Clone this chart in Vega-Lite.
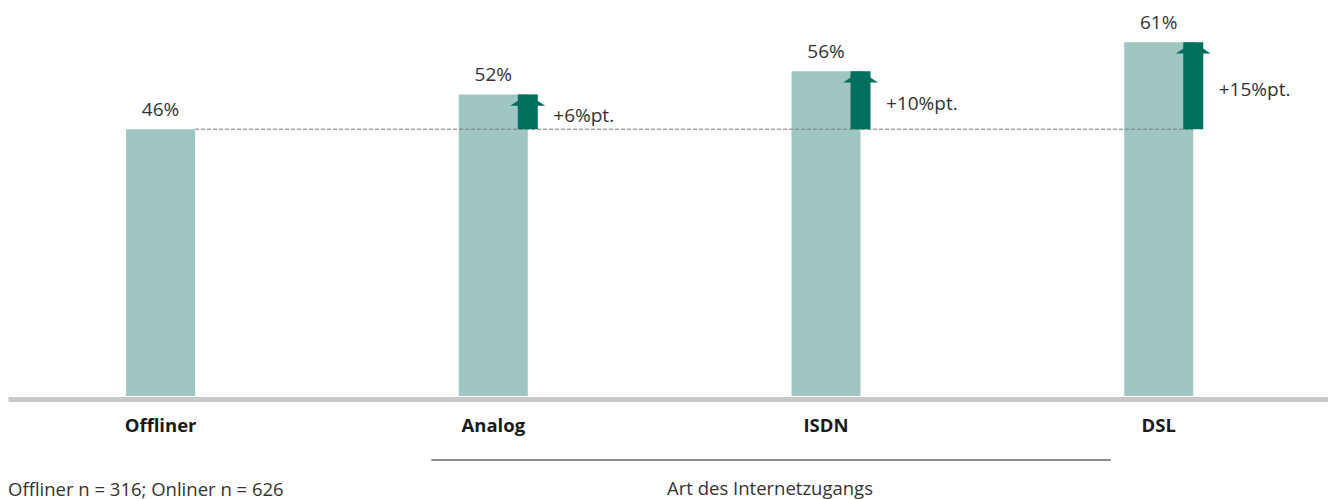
{
  "$schema": "https://vega.github.io/schema/vega-lite/v6.json",
  "width": 1320,
  "height": 377,
  "autosize": {"type": "none"},
  "padding": {"left": 8, "top": 19, "right": 0, "bottom": 103},
  "config": {"view": {"stroke": null}, "font": "Open Sans"},
  "title": {
    "text": "Offliner n = 316; Onliner n = 626",
    "orient": "bottom",
    "anchor": "start",
    "frame": "group",
    "dx": 0,
    "offset": -18,
    "fontSize": 18.5,
    "fontWeight": "normal",
    "color": "#333333",
    "font": "Open Sans"
  },
  "datasets": {
    "main": [
      {"cat": "Offliner", "value": 0.46},
      {"cat": "Analog", "value": 0.52, "base": 0.46, "delta": "+6%pt."},
      {"cat": "ISDN", "value": 0.56, "base": 0.46, "delta": "+10%pt."},
      {"cat": "DSL", "value": 0.61, "base": 0.46, "delta": "+15%pt."}
    ]
  },
  "encoding": {
    "x": {
      "field": "cat",
      "type": "nominal",
      "sort": ["Offliner", "Analog", "ISDN", "DSL"],
      "title": null,
      "scale": {
        "domain": ["Offliner", "Analog", "ISDN", "DSL"],
        "paddingInner": 0.7926,
        "paddingOuter": 0.38,
        "align": 0.467
      },
      "axis": {
        "title": null,
        "ticks": false,
        "domainColor": "#c8c8c8",
        "domainWidth": 5,
        "offset": 3,
        "labelAngle": 0,
        "labelFont": "Open Sans",
        "labelFontSize": 18.5,
        "labelFontWeight": "bold",
        "labelColor": "#1a1a1a",
        "labelPadding": 26,
        "labelBaseline": "middle"
      }
    }
  },
  "layer": [
    {
      "data": {"name": "main"},
      "mark": {"type": "bar", "color": "#a0c6c2"},
      "encoding": {
        "y": {"field": "value", "type": "quantitative", "scale": {"domain": [0, 0.65]}, "axis": null}
      }
    },
    {
      "data": {"name": "main"},
      "mark": {"type": "text", "dy": -13, "baseline": "alphabetic", "fontSize": 19, "color": "#333333", "font": "Open Sans"},
      "encoding": {
        "y": {"field": "value", "type": "quantitative"},
        "text": {"field": "value", "type": "quantitative", "format": ".0%"}
      }
    },
    {
      "data": {"values": [{"from": "Offliner", "to": "DSL", "level": 0.46}]},
      "mark": {"type": "rule", "strokeDash": [4, 2], "color": "#777777", "strokeWidth": 1, "xOffset": 34.5, "x2Offset": 34.5},
      "encoding": {
        "x": {"field": "from", "type": "nominal"},
        "x2": {"field": "to"},
        "y": {"field": "level", "type": "quantitative"}
      }
    },
    {
      "data": {"name": "main"},
      "transform": [{"filter": "isValid(datum.base)"}],
      "mark": {"type": "bar", "width": 20, "xOffset": 34.5, "color": "#00705e"},
      "encoding": {
        "y": {"field": "value", "type": "quantitative"},
        "y2": {"field": "base"}
      }
    },
    {
      "data": {"name": "main"},
      "transform": [{"filter": "isValid(datum.base)"}],
      "mark": {"type": "point", "shape": "M-1,0.65L1,0.65L0,0Z", "size": 1225, "filled": true, "opacity": 1, "strokeWidth": 0, "color": "#00705e", "xOffset": 34.5},
      "encoding": {
        "y": {"field": "value", "type": "quantitative"}
      }
    },
    {
      "data": {"name": "main"},
      "transform": [
        {"filter": "isValid(datum.base)"},
        {"calculate": "(datum.value + datum.base) / 2", "as": "mid"}
      ],
      "mark": {"type": "text", "align": "left", "baseline": "middle", "xOffset": 60, "dy": 4, "fontSize": 19, "color": "#333333", "font": "Open Sans"},
      "encoding": {
        "y": {"field": "mid", "type": "quantitative"},
        "text": {"field": "delta"}
      }
    },
    {
      "data": {"values": [{"from": "Analog", "to": "DSL", "mid": "ISDN", "label": "Art des Internetzugangs"}]},
      "layer": [
        {
          "mark": {"type": "rule", "color": "#8c8c8c", "strokeWidth": 2, "xOffset": -62, "x2Offset": -48, "yOffset": 64},
          "encoding": {
            "x": {"field": "from", "type": "nominal"},
            "x2": {"field": "to"},
            "y": {"datum": 0}
          }
        },
        {
          "mark": {"type": "text", "align": "center", "baseline": "middle", "xOffset": -56, "yOffset": 93, "fontSize": 18.5, "color": "#333333", "font": "Open Sans"},
          "encoding": {
            "x": {"field": "mid", "type": "nominal"},
            "y": {"datum": 0},
            "text": {"field": "label"}
          }
        }
      ]
    }
  ]
}
